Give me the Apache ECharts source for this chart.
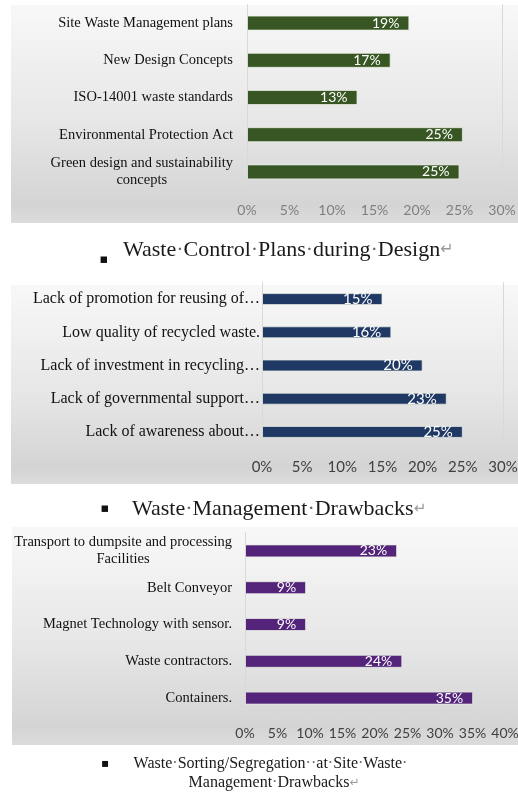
<!DOCTYPE html>
<html>
<head>
<meta charset="utf-8">
<script src="https://cdn.jsdelivr.net/npm/echarts@6/dist/echarts.min.js"></script>
<style>
html,body{margin:0;padding:0;background:#fff;}
#chart{width:518px;height:793px;}
</style>
</head>
<body>
<div id="chart"></div>
<script>
// ---- Data ----
const cat1 = ['Site Waste Management plans', 'New Design Concepts', 'ISO-14001 waste standards', 'Environmental Protection Act', 'Green design and sustainability\nconcepts'];
const val1 = [19.1, 16.9, 13.0, 25.4, 25.0];
const cat2 = ['Lack of promotion for reusing of…', 'Low quality of recycled waste.', 'Lack of investment in recycling…', 'Lack of governmental support…', 'Lack of awareness about…'];
const val2 = [15.0, 16.1, 20.0, 23.0, 25.0];
const cat3 = ['Transport to dumpsite and processing\nFacilities', 'Belt Conveyor', 'Magnet Technology with sensor.', 'Waste contractors.', 'Containers.'];
const val3 = [23.4, 9.4, 9.4, 24.2, 35.1];
const axisMax1 = 30, axisMax2 = 30, axisMax3 = 40, axisStep = 5;
const caption1 = 'Waste·Control·Plans·during·Design';
const caption2 = 'Waste·Management·Drawbacks';
const caption3a = 'Waste·Sorting/Segregation··at·Site·Waste·';
const caption3b = 'Management·Drawbacks';

const SERIF = "'Liberation Serif', 'Times New Roman', serif";
const SANS = "Lato, 'Liberation Sans', sans-serif";

const chart = echarts.init(document.getElementById('chart'), null, {renderer: 'canvas'});

function bg(x, y, w, h) {
  return {
    type: 'rect', z: -10, silent: true,
    shape: {x: x, y: y, width: w, height: h},
    style: {
      fill: new echarts.graphic.LinearGradient(0, 0, 0, 1, [
        {offset: 0, color: '#f8f8f8'},
        {offset: 0.55, color: '#e6e6e6'},
        {offset: 0.92, color: '#d4d4d4'},
        {offset: 1, color: '#dcdcdc'}
      ])
    }
  };
}
function dotted(s) {
  return s.split('·').map(w => w ? '{a|' + w + '}' : '').join('{d|·}');
}

function catAxis(gi, data, fs, color, margin, lh) {
  return {
    type: 'category', gridIndex: gi, data: data, inverse: true,
    axisLine: {show: true, lineStyle: {color: '#d9d9d9', width: 1}},
    axisTick: {show: false},
    axisLabel: {
      margin: margin, fontFamily: SERIF, fontSize: fs, color: color,
      formatter: v => '{c|' + v + '}',
      rich: {c: {align: 'center', fontFamily: SERIF, fontSize: fs, color: color, lineHeight: lh}}
    }
  };
}
function rightAxis(gi, data, show) {
  return {
    type: 'category', gridIndex: gi, data: data, inverse: true, position: 'right',
    axisLine: {show: show, lineStyle: {color: '#d9d9d9', width: 1}},
    axisTick: {show: false}, axisLabel: {show: false}
  };
}
function valAxis(gi, max, fs, color, margin) {
  return {
    type: 'value', gridIndex: gi, min: 0, max: max, interval: axisStep,
    axisLine: {show: true, lineStyle: {color: '#d9d9d9', width: 1}},
    axisTick: {show: true, length: 4, lineStyle: {color: '#d9d9d9'}},
    splitLine: {show: false},
    axisLabel: {margin: margin, fontFamily: SANS, fontSize: fs, color: color, formatter: v => v + '%'}
  };
}
function barSeries(xi, yi, data, color, barW, fs, off) {
  return {
    type: 'bar', xAxisIndex: xi, yAxisIndex: yi, data: data, barWidth: barW,
    itemStyle: {color: color, borderColor: 'rgba(235,240,230,0.75)', borderWidth: 1},
    label: {
      show: true, position: 'insideRight', distance: off, color: '#ffffff',
      fontFamily: SANS, fontSize: fs, formatter: p => Math.round(p.value) + '%'
    },
    silent: true, animation: false
  };
}
function capRich(fs, arrowFs) {
  return {
    a: {font: fs + "px " + SERIF, fill: '#1a1a1a'},
    d: {font: fs + "px " + SERIF, fill: '#6a6a6a'},
    b: {font: arrowFs + "px 'DejaVu Sans'", fill: '#9a9a9a'}
  };
}

const option = {
  backgroundColor: '#ffffff',
  animation: false,
  grid: [
    {left: 247, right: 16, top: 4.5, height: 186, outerBoundsMode: 'none', containLabel: false},
    {left: 262, right: 15, top: 282.5, height: 166, outerBoundsMode: 'none', containLabel: false},
    {left: 245, right: 13, top: 532.5, height: 184, outerBoundsMode: 'none', containLabel: false}
  ],
  xAxis: [
    valAxis(0, axisMax1, 14, '#7f7f7f', 13),
    valAxis(1, axisMax2, 15, '#404040', 11),
    valAxis(2, axisMax3, 14, '#404040', 9.5)
  ],
  yAxis: [
    catAxis(0, cat1, 14.5, '#111111', 14, 17),
    catAxis(1, cat2, 16, '#111111', 2, 18),
    catAxis(2, cat3, 14.5, '#111111', 13, 17),
    rightAxis(0, cat1, true),
    rightAxis(1, cat2, true)
  ],
  series: [
    barSeries(0, 0, val1, '#375623', 15, 14, 10),
    barSeries(1, 1, val2, '#1f3864', 12, 15, 10),
    barSeries(2, 2, val3, '#53247a', 13, 14, 10)
  ],
  graphic: [
    bg(11, 5, 507, 218),
    bg(11, 285, 507, 199),
    bg(12, 527, 506, 218),
    {type: 'text', z: 5, style: {x: 104, y: 260, text: '▪', font: "13px 'DejaVu Sans'", fill: '#111', align: 'center', verticalAlign: 'middle'}},
    {type: 'text', z: 5, style: {x: 123, y: 250, align: 'left', verticalAlign: 'middle',
      text: dotted(caption1) + '{b|↵}', rich: capRich(22, 16)}},
    {type: 'text', z: 5, style: {x: 105, y: 509, text: '▪', font: "13px 'DejaVu Sans'", fill: '#111', align: 'center', verticalAlign: 'middle'}},
    {type: 'text', z: 5, style: {x: 132, y: 509, align: 'left', verticalAlign: 'middle',
      text: dotted(caption2) + '{b|↵}', rich: capRich(22, 15)}},
    {type: 'text', z: 5, style: {x: 105, y: 764, text: '▪', font: "12px 'DejaVu Sans'", fill: '#111', align: 'center', verticalAlign: 'middle'}},
    {type: 'text', z: 5, style: {x: 270.5, y: 764, align: 'center', verticalAlign: 'middle',
      text: dotted(caption3a), rich: capRich(16, 12)}},
    {type: 'text', z: 5, style: {x: 274, y: 783, align: 'center', verticalAlign: 'middle',
      text: dotted(caption3b) + '{b|↵}', rich: capRich(16, 12)}}
  ]
};
chart.setOption(option);
</script>
</body>
</html>
